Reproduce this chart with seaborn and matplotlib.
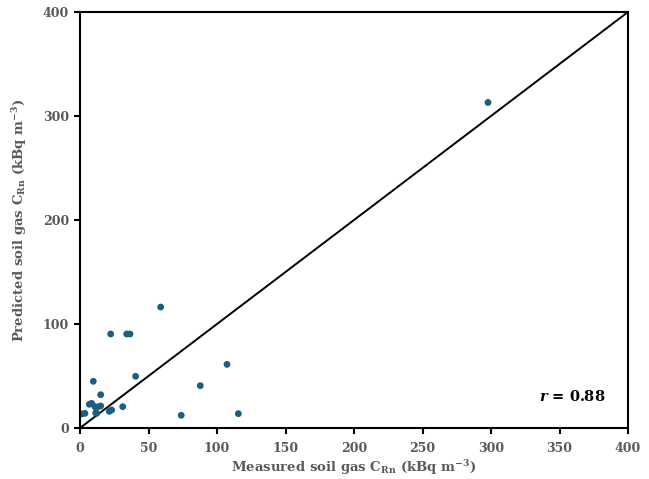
import matplotlib
matplotlib.use("Agg")
import matplotlib.pyplot as plt
import seaborn as sns
import pandas as pd

measured = [1.2, 3.6, 9.7, 6.8, 8.5, 10.9, 12.2, 11.5, 13.4, 15.1, 15.1, 22.4, 21.4, 23.1,
            31.2, 34.1, 36.5, 40.6, 58.9, 73.9, 87.8, 107.3, 115.6, 297.8]
predicted = [13.5, 14.1, 44.9, 22.8, 23.7, 20.5, 14.1, 14.5, 20.5, 21.2, 32.0, 90.4, 16.0, 17.3,
             20.5, 90.4, 90.4, 49.7, 116.3, 12.2, 40.7, 61.2, 13.8, 313.0]
ticks_x = [0, 50, 100, 150, 200, 250, 300, 350, 400]
ticks_y = [0, 100, 200, 300, 400]
r_value = 0.88

df = pd.DataFrame({"measured": measured, "predicted": predicted})

sns.set_style("white")
plt.rcParams["font.family"] = ["DejaVu Serif"]
plt.rcParams["mathtext.fontset"] = "custom"
plt.rcParams["mathtext.rm"] = "DejaVu Serif:bold"
plt.rcParams["mathtext.it"] = "DejaVu Serif:italic:bold"
plt.rcParams["mathtext.bf"] = "DejaVu Serif:bold"
plt.rcParams["mathtext.default"] = "rm"

gray = "#595959"
fig = plt.figure(figsize=(6.49, 4.79), dpi=100)
ax = fig.add_axes([80/649, 51/479, 548/649, 416/479])

ax.plot([0, 400], [0, 400], color="black", lw=1.4, zorder=1)
sns.scatterplot(data=df, x="measured", y="predicted", ax=ax, color="#1b5e7e",
                s=24, edgecolor="none", zorder=2)

ax.set_xlim(0, 400)
ax.set_ylim(0, 400)
ax.set_xticks(ticks_x)
ax.set_yticks(ticks_y)
for s in ax.spines.values():
    s.set_color("black")
    s.set_linewidth(1.5)
ax.tick_params(axis="both", direction="out", length=4, width=1.5, color="black",
               labelcolor=gray, labelsize=9, left=True, bottom=True)
ax.tick_params(axis="x", pad=6)
ax.tick_params(axis="y", pad=4)
for lab in ax.get_xticklabels() + ax.get_yticklabels():
    lab.set_fontweight("bold")

ax.set_xlabel(r"Measured soil gas C$_{Rn}$ (kBq m$^{-3}$)", fontsize=9.5,
              fontweight="bold", color=gray, labelpad=2)
ax.set_ylabel(r"Predicted soil gas C$_{Rn}$ (kBq m$^{-3}$)", fontsize=9.5,
              fontweight="bold", color=gray, labelpad=10)

ax.text(0.898, 0.075, rf"$\it{{r}}$ = {r_value:.2f}", transform=ax.transAxes,
        fontsize=10.5, fontweight="bold", color="black", ha="center", va="center")

fig.savefig("out.png", dpi=100)
